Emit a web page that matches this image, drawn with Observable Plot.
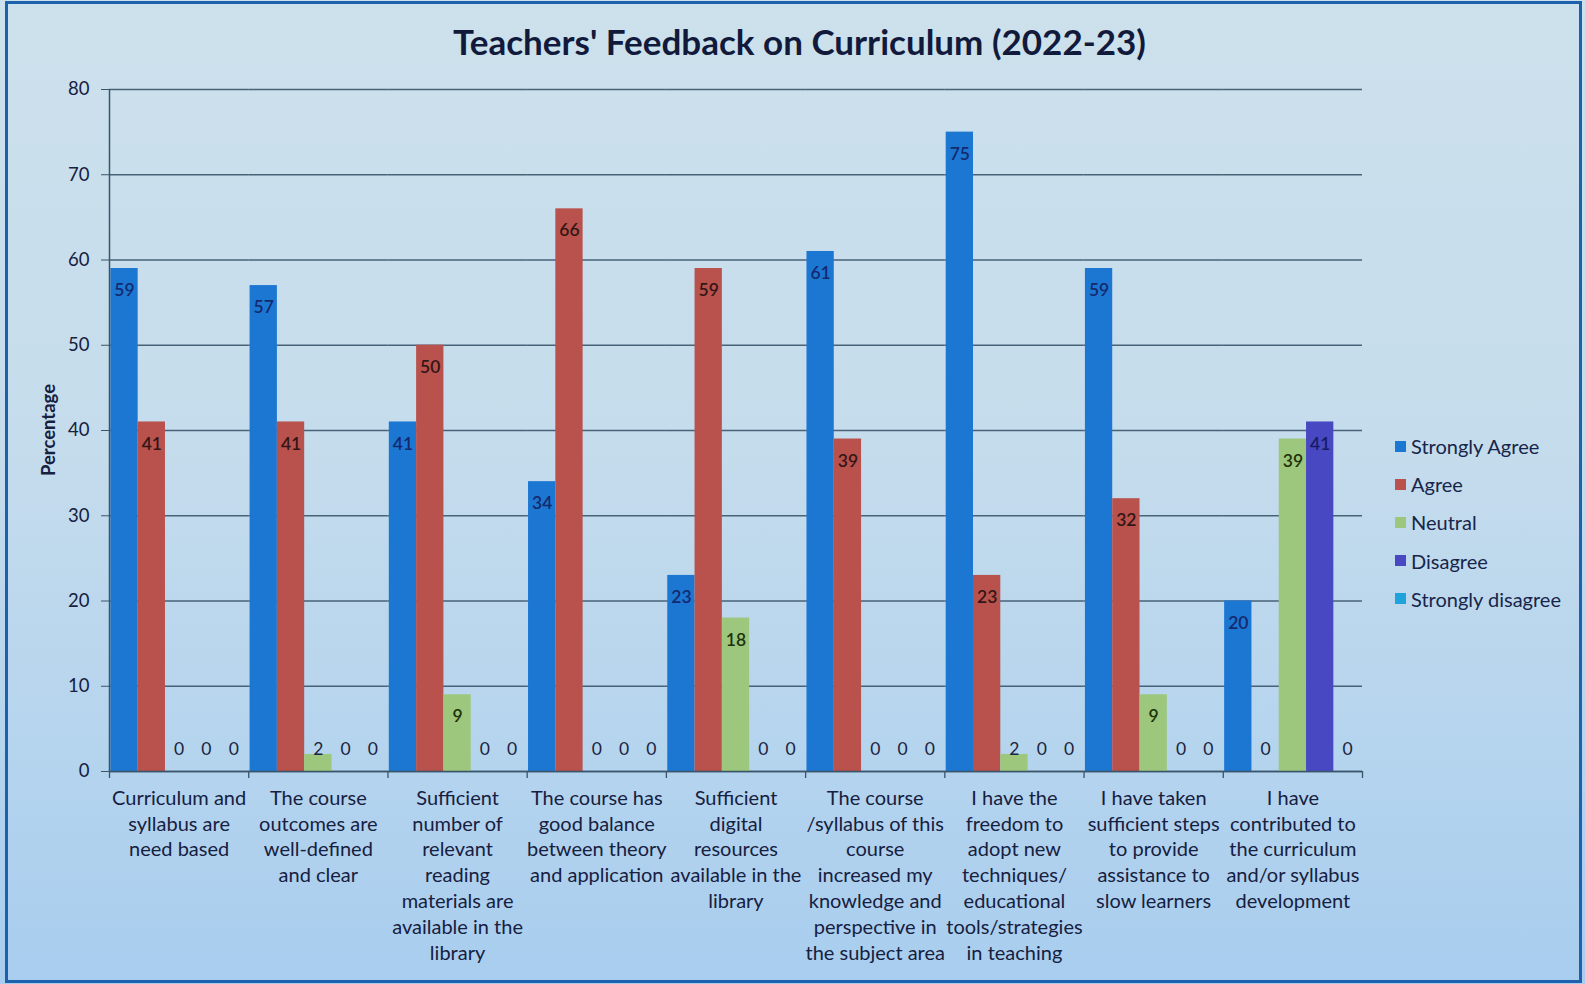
<!DOCTYPE html>
<html>
<head>
<meta charset="utf-8">
<script src="https://cdn.jsdelivr.net/npm/d3@7"></script>
<script src="https://cdn.jsdelivr.net/npm/@observablehq/plot@0.6"></script>
<style>
  html, body { margin: 0; padding: 0; }
  body {
    width: 1585px; height: 984px; overflow: hidden; position: relative;
    background: linear-gradient(to bottom, #cde1ec 0%, #c5dcec 45%, #b3d3ee 80%, #a8cdee 100%);
    font-family: Lato, "Open Sans", sans-serif;
  }
  #frame { position: absolute; left: 5px; top: 1px; width: 1577px; height: 982px;
    border: 3px solid #1d61ad; box-sizing: border-box; pointer-events: none; }
  #title { position: absolute; left: 7px; top: 20px; width: 1585px; text-align: center;
    font-weight: bold; font-size: 35px; color: #121a3c; }
  #chart { position: absolute; left: 0; top: 70px; }
  #ylabel { position: absolute; left: 48px; top: 430px; transform: translate(-50%, -50%) rotate(-90deg);
    font-weight: bold; font-size: 18.5px; color: #16203f; white-space: nowrap; }
  #legend { position: absolute; left: 1395px; top: 427px; }
  .item { display: flex; align-items: center; height: 38.2px; font-size: 20px; color: #17254a; }
  .sw { width: 11px; height: 11px; margin-right: 5px; }
</style>
</head>
<body>
<div id="title">Teachers' Feedback on Curriculum (2022-23)</div>
<div id="chart"></div>
<div id="ylabel">Percentage</div>
<div id="legend"></div>
<div id="frame"></div>
<script>
// ---- Data ----
const groupLabels = [
  "Curriculum and\nsyllabus are\nneed based",
  "The course\noutcomes are\nwell-defined\nand clear",
  "Sufficient\nnumber of\nrelevant\nreading\nmaterials are\navailable in the\nlibrary",
  "The course has\ngood balance\nbetween theory\nand application",
  "Sufficient\ndigital\nresources\navailable in the\nlibrary",
  "The course\n/syllabus of this\ncourse\nincreased my\nknowledge and\nperspective in\nthe subject area",
  "I have the\nfreedom to\nadopt new\ntechniques/\neducational\ntools/strategies\nin teaching",
  "I have taken\nsufficient steps\nto provide\nassistance to\nslow learners",
  "I have\ncontributed to\nthe curriculum\nand/or syllabus\ndevelopment"
];
const seriesNames = ["Strongly Agree", "Agree", "Neutral", "Disagree", "Strongly disagree"];
const stronglyAgree    = [59, 57, 41, 34, 23, 61, 75, 59, 20];
const agree            = [41, 41, 50, 66, 59, 39, 23, 32, 0];
const neutral          = [0, 2, 9, 0, 18, 0, 2, 9, 39];
const disagree         = [0, 0, 0, 0, 0, 0, 0, 0, 41];
const stronglyDisagree = [0, 0, 0, 0, 0, 0, 0, 0, 0];
const yTicks = [0, 10, 20, 30, 40, 50, 60, 70, 80];

// ---- Styles ----
const seriesColors = ["#1c77d3", "#b9514d", "#9cc77c", "#4848c2", "#1fa3dd"];
const labelColors  = ["#14296e", "#331616", "#1d320c", "#171c66", "#1b2b48"];
const lineColor = "#3a556a";

const seriesValues = [stronglyAgree, agree, neutral, disagree, stronglyDisagree];
const rows = [];
groupLabels.forEach((g, gi) => seriesNames.forEach((s, si) =>
  rows.push({group: g, series: s, value: seriesValues[si][gi]})));

const W = 1585, H = 912, mL = 109, mR = 223, mT = 19, mB = 211;
const facetW = (W - mL - mR) / groupLabels.length;
const padOuter = 0.05;
const step = facetW / (seriesNames.length + 2 * padOuter);
const edge = step * (0.5 + padOuter);
const yMax = yTicks[yTicks.length - 1];

const valueMarks = seriesNames.map((s, si) =>
  Plot.text(rows.filter(d => d.series === s && d.value >= 5), {
    fx: "group", x: "series", y: "value", text: d => String(d.value),
    dy: 22, fill: labelColors[si], fontSize: 17.5, fontWeight: 600
  }));

const chart = Plot.plot({
  width: W, height: H,
  marginLeft: mL, marginRight: mR, marginTop: mT, marginBottom: mB,
  style: {background: "transparent", fontFamily: "Lato, 'Open Sans', sans-serif", fontSize: "20px", color: "#16203f"},
  fx: {domain: groupLabels, padding: 0, round: false, axis: null},
  x: {domain: seriesNames, paddingInner: 0, paddingOuter: padOuter, round: false, axis: null},
  y: {domain: [0, yMax], axis: null},
  color: {domain: seriesNames, range: seriesColors},
  marks: [
    Plot.gridY(yTicks, {stroke: lineColor, strokeOpacity: 0.9, strokeWidth: 1.4}),
    Plot.barY(rows, {fx: "group", x: "series", y: "value", fill: "series"}),
    Plot.ruleY([0], {stroke: lineColor, strokeWidth: 1.5}),
    Plot.ruleX(groupLabels, {fx: d => d, x: () => seriesNames[0], dx: -edge,
      y1: () => 0, y2: () => 0, insetBottom: -7, stroke: lineColor, strokeWidth: 1.3}),
    Plot.ruleX([groupLabels[groupLabels.length - 1]], {fx: d => d, x: () => seriesNames[seriesNames.length - 1], dx: edge,
      y1: () => 0, y2: () => 0, insetBottom: -7, stroke: lineColor, strokeWidth: 1.3}),
    Plot.ruleX([groupLabels[0]], {fx: d => d, x: () => seriesNames[0], dx: -edge,
      y1: () => 0, y2: () => yMax, stroke: lineColor, strokeWidth: 1.5}),
    Plot.axisY(yTicks, {tickSize: 8, tickPadding: 12, label: null, stroke: lineColor, fill: "#16203f", fontSize: 18.5}),
    Plot.axisFx({anchor: "bottom", tickSize: 0, tickPadding: 15, label: null, lineHeight: 1.29, fill: "#16203f"}),
    ...valueMarks,
    Plot.text(rows.filter(d => d.value < 5), {
      fx: "group", x: "series", y: () => 0, text: d => String(d.value),
      dy: -22, fill: "#1b2540", fontSize: 17.5
    })
  ]
});
document.getElementById("chart").appendChild(chart);

const legend = document.getElementById("legend");
seriesNames.forEach((s, i) => {
  const item = document.createElement("div");
  item.className = "item";
  const sw = document.createElement("span");
  sw.className = "sw";
  sw.style.background = seriesColors[i];
  const t = document.createElement("span");
  t.textContent = s;
  item.appendChild(sw); item.appendChild(t);
  legend.appendChild(item);
});
</script>
</body>
</html>
